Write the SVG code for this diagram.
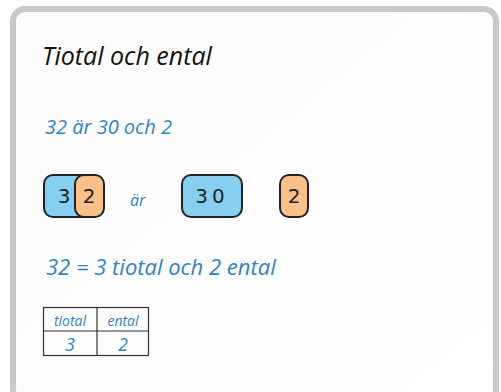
<svg xmlns="http://www.w3.org/2000/svg" width="501" height="392" viewBox="0 0 501 392">
<style>
.hand{font-family:"Open Sans","DejaVu Sans",sans-serif;font-style:italic;}
.blue{fill:#3084c6;}
.box{stroke:#222;stroke-width:2;}
.tens{fill:#86cff0;}
.ones{fill:#f9c08a;}
.digit{font-family:"DejaVu Sans",sans-serif;font-size:20px;fill:#222;text-anchor:middle;}
.grid{fill:none;stroke:#333;stroke-width:1.2;}
</style>
<defs>
<linearGradient id="card" x1="0" y1="0" x2="1" y2="1">
<stop offset="0" stop-color="#fbfbfb"/>
<stop offset="1" stop-color="#ffffff"/>
</linearGradient>
</defs>
<rect width="501" height="392" fill="#ffffff"/>
<rect x="13" y="9" width="483" height="392" rx="12" fill="url(#card)" stroke="#c9c9c9" stroke-width="6"/>
<g id="title">
<text class="hand" x="42" y="65" font-size="25" fill="#111">Tiotal och ental</text>
</g>
<g id="line1">
<text class="hand blue" x="45" y="134" font-size="20">32 är 30 och 2</text>
</g>
<g id="box32">
<rect class="box tens" x="44" y="175" width="48" height="42" rx="9"/>
<rect class="box ones" x="75" y="175" width="29" height="42" rx="9"/>
<text class="digit" x="64" y="203">3</text>
<text class="digit" x="89" y="203">2</text>
</g>
<g id="ar">
<text class="hand blue" x="130" y="206" font-size="16">är</text>
</g>
<g id="box30">
<rect class="box tens" x="182" y="175" width="60" height="42" rx="9"/>
<text class="digit" x="212" y="203" letter-spacing="4">30</text>
</g>
<g id="box2">
<rect class="box ones" x="280" y="175" width="28" height="42" rx="9"/>
<text class="digit" x="294" y="203">2</text>
</g>
<g id="line2">
<text class="hand blue" x="46" y="275" font-size="22">32 = 3 tiotal och 2 ental</text>
</g>
<g id="table">
<rect class="grid" x="43.5" y="307.5" width="105" height="48"/>
<line class="grid" x1="97" y1="307.5" x2="97" y2="355.5"/>
<line class="grid" x1="43.5" y1="331" x2="148.5" y2="331"/>
<text class="hand blue" x="70" y="326" font-size="14" text-anchor="middle">tiotal</text>
<text class="hand blue" x="123" y="326" font-size="14" text-anchor="middle">ental</text>
<text class="hand blue" x="70" y="351" font-size="18" text-anchor="middle">3</text>
<text class="hand blue" x="123" y="351" font-size="18" text-anchor="middle">2</text>
</g>
</svg>
